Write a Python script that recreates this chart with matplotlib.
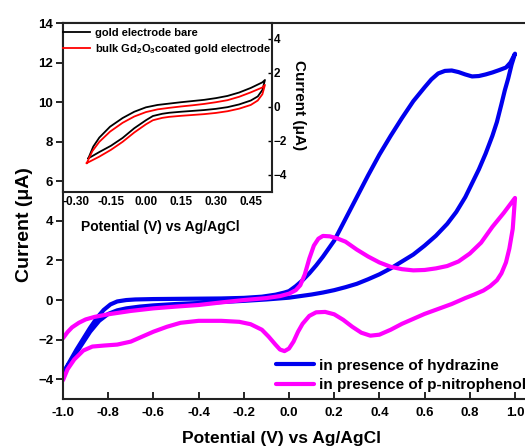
import matplotlib
matplotlib.use("Agg")
import matplotlib.pyplot as plt

plt.rcParams['font.family'] = ['Liberation Sans', 'DejaVu Sans']
plt.rcParams['font.weight'] = 'bold'
plt.rcParams['mathtext.fontset'] = 'custom'
plt.rcParams['mathtext.rm'] = 'Liberation Sans:bold'
plt.rcParams['mathtext.bf'] = 'Liberation Sans:bold'
plt.rcParams['mathtext.it'] = 'Liberation Sans:bold'

# ---- main panel data ----
hyd_fwd_x = [-1.0, -0.97, -0.94, -0.91, -0.88, -0.85, -0.82, -0.79, -0.76, -0.72, -0.68, -0.6, -0.5, -0.4,
             -0.3, -0.2, -0.12, -0.06, -0.02, 0.0, 0.03, 0.06, 0.09, 0.12, 0.15, 0.2, 0.25, 0.3, 0.35, 0.4,
             0.45, 0.5, 0.55, 0.6, 0.63, 0.66, 0.69, 0.72, 0.75, 0.78, 0.81, 0.84, 0.87, 0.9, 0.93, 0.96,
             0.98, 1.0]
hyd_fwd_y = [-3.7, -3.1, -2.5, -1.95, -1.4, -0.9, -0.5, -0.22, -0.07, 0.0, 0.03, 0.05, 0.06, 0.07,
             0.08, 0.11, 0.17, 0.27, 0.38, 0.45, 0.7, 1.0, 1.35, 1.75, 2.19, 3.0, 4.1, 5.2, 6.3, 7.35,
             8.3, 9.2, 10.05, 10.75, 11.15, 11.45, 11.58, 11.6, 11.52, 11.4, 11.3, 11.32, 11.4, 11.5, 11.62, 11.75,
             12.0, 12.45]
hyd_rev_x = [1.0, 0.985, 0.97, 0.955, 0.94, 0.92, 0.9, 0.87, 0.84, 0.81, 0.78, 0.74, 0.7, 0.65, 0.6,
             0.55, 0.5, 0.45, 0.4, 0.35, 0.3, 0.25, 0.2, 0.15, 0.1, 0.05, 0.0, -0.1, -0.2, -0.3, -0.4,
             -0.5, -0.6, -0.66, -0.72, -0.76, -0.8, -0.84, -0.88, -0.92, -0.96, -1.0]
hyd_rev_y = [12.45, 11.9, 11.2, 10.6, 9.9, 9.0, 8.3, 7.4, 6.6, 5.9, 5.2, 4.45, 3.85, 3.25, 2.75,
             2.3, 1.95, 1.6, 1.3, 1.05, 0.82, 0.65, 0.5, 0.38, 0.28, 0.2, 0.12, 0.03, -0.04, -0.1, -0.15,
             -0.2, -0.27, -0.33, -0.42, -0.52, -0.7, -1.05, -1.6, -2.3, -3.0, -3.7]

pnp_fwd_x = [-1.0, -0.98, -0.96, -0.93, -0.9, -0.86, -0.8, -0.7, -0.6, -0.5, -0.4, -0.3, -0.2, -0.1,
             -0.04, 0.0, 0.03, 0.05, 0.07, 0.09, 0.11, 0.13, 0.15, 0.18, 0.21, 0.25, 0.3, 0.35, 0.4,
             0.45, 0.5, 0.55, 0.6, 0.65, 0.7, 0.75, 0.8, 0.85, 0.9, 0.95, 1.0]
pnp_fwd_y = [-1.93, -1.62, -1.38, -1.15, -0.98, -0.85, -0.72, -0.55, -0.42, -0.33, -0.25, -0.12, 0.0, 0.1,
             0.2, 0.32, 0.5, 0.75, 1.3, 2.1, 2.75, 3.1, 3.24, 3.22, 3.13, 2.95, 2.55, 2.2, 1.9,
             1.68, 1.56, 1.5, 1.52, 1.6, 1.72, 1.95, 2.35, 2.9, 3.7, 4.4, 5.16]
pnp_rev_x = [1.0, 0.99, 0.975, 0.96, 0.94, 0.92, 0.89, 0.86, 0.82, 0.78, 0.72, 0.66, 0.6, 0.55, 0.5,
             0.45, 0.4, 0.36, 0.32, 0.28, 0.24, 0.2, 0.16, 0.12, 0.09, 0.06, 0.04, 0.02, 0.0, -0.02,
             -0.04, -0.06, -0.09, -0.12, -0.17, -0.22, -0.3, -0.4, -0.48, -0.54, -0.6, -0.65, -0.7,
             -0.76, -0.82, -0.87, -0.91, -0.95, -0.98, -1.0]
pnp_rev_y = [5.16, 3.6, 2.6, 1.9, 1.35, 1.0, 0.7, 0.48, 0.28, 0.1, -0.2, -0.45, -0.7, -0.95, -1.2,
             -1.5, -1.75, -1.8, -1.65, -1.35, -1.0, -0.72, -0.6, -0.62, -0.8, -1.2, -1.6, -2.1, -2.45, -2.58,
             -2.5, -2.25, -1.85, -1.5, -1.22, -1.1, -1.05, -1.05, -1.15, -1.35, -1.6, -1.85, -2.1,
             -2.25, -2.3, -2.35, -2.55, -3.0, -3.5, -4.05]

main_xticks = [-1.0, -0.8, -0.6, -0.4, -0.2, 0.0, 0.2, 0.4, 0.6, 0.8, 1.0]
main_yticks = [-4, -2, 0, 2, 4, 6, 8, 10, 12, 14]

# ---- inset data ----
bare_fwd_x = [-0.247, -0.2, -0.15, -0.1, -0.05, 0.0, 0.03, 0.07, 0.1, 0.15, 0.2, 0.25, 0.3, 0.35, 0.4,
              0.45, 0.48, 0.5, 0.511]
bare_fwd_y = [-3.02, -2.65, -2.28, -1.82, -1.25, -0.78, -0.53, -0.4, -0.34, -0.28, -0.23, -0.18, -0.11,
              -0.01, 0.15, 0.38, 0.62, 1.0, 1.59]
bare_rev_x = [0.511, 0.5, 0.45, 0.4, 0.35, 0.3, 0.25, 0.2, 0.15, 0.1, 0.05, 0.0, -0.05, -0.1, -0.154,
              -0.2, -0.226, -0.247]
bare_rev_y = [1.59, 1.45, 1.12, 0.85, 0.65, 0.52, 0.42, 0.35, 0.28, 0.2, 0.12, -0.02, -0.28, -0.65, -1.16,
              -1.8, -2.33, -3.02]

gd_fwd_x = [-0.254, -0.2, -0.15, -0.1, -0.05, 0.0, 0.03, 0.07, 0.1, 0.15, 0.2, 0.25, 0.3, 0.35, 0.4,
            0.45, 0.48, 0.5, 0.511]
gd_fwd_y = [-3.3, -2.92, -2.52, -2.05, -1.5, -1.02, -0.78, -0.64, -0.58, -0.52, -0.47, -0.42, -0.35,
            -0.25, -0.1, 0.12, 0.38, 0.75, 1.3]
gd_rev_x = [0.511, 0.5, 0.45, 0.4, 0.35, 0.3, 0.25, 0.2, 0.15, 0.1, 0.05, 0.0, -0.05, -0.1, -0.154,
            -0.2, -0.23, -0.254]
gd_rev_y = [1.3, 1.15, 0.86, 0.6, 0.4, 0.28, 0.18, 0.1, 0.03, -0.05, -0.14, -0.3, -0.56, -0.93, -1.45,
            -2.05, -2.6, -3.3]

inset_xticks = [-0.30, -0.15, 0.00, 0.15, 0.30, 0.45]
inset_yticks = [-4, -2, 0, 2, 4]

W, H = 525, 446
fig = plt.figure(figsize=(W / 100, H / 100), dpi=100)

ax = fig.add_axes([63 / W, 1 - 399 / H, (525 - 63) / W, (399 - 23) / H])
blue = '#0000ee'
mag = '#ff00ff'
lw = 3.0
ax.plot(hyd_fwd_x + hyd_rev_x, hyd_fwd_y + hyd_rev_y, color=blue, lw=lw,
        solid_joinstyle='round', solid_capstyle='round', label='in presence of hydrazine')
ax.plot(pnp_fwd_x + pnp_rev_x, pnp_fwd_y + pnp_rev_y, color=mag, lw=lw,
        solid_joinstyle='round', solid_capstyle='round', label='in presence of p-nitrophenol')
ax.set_xlim(-1.0, -1.0 + (525 - 63) / 226)
ax.set_ylim(-5, 14)
ax.set_xticks(main_xticks)
ax.set_xticklabels(['%.1f' % v for v in main_xticks])
ax.set_yticks(main_yticks)
ax.spines['right'].set_visible(False)
for s in ['left', 'bottom', 'top']:
    ax.spines[s].set_linewidth(1.5)
    ax.spines[s].set_color('#222222')
ax.tick_params(axis='x', direction='in', length=5, width=1.2, labelsize=9.5, pad=6)
ax.tick_params(axis='y', direction='out', length=5, width=1.2, labelsize=9.5, pad=2)
for t in ax.get_xticklabels() + ax.get_yticklabels():
    t.set_fontweight('bold')
ax.set_xlabel('Potential (V) vs Ag/AgCl', fontsize=12.5, fontweight='bold')
ax.xaxis.set_label_coords((282 - 63) / (525 - 63), -(431 - 399) / (399 - 23))
ax.set_ylabel('Current (μA)', fontsize=14, fontweight='bold')
ax.yaxis.set_label_coords(-(63 - 33) / (525 - 63), (399 - 225) / (399 - 23))
leg = ax.legend(loc='lower left', bbox_to_anchor=((276 - 63) / (525 - 63), (399 - 392) / (399 - 23)),
                frameon=False, fontsize=11, handlelength=2.5, handletextpad=0.3,
                labelspacing=0.35, borderpad=0, borderaxespad=0)
for t in leg.get_texts():
    t.set_fontweight('bold')

# ---- inset ----
axi = fig.add_axes([63 / W, 1 - 192 / H, (272 - 63) / W, (192 - 23) / H])
axi.plot(bare_fwd_x + bare_rev_x, bare_fwd_y + bare_rev_y, color='black', lw=1.3,
         solid_joinstyle='round', label='gold electrode bare')
axi.plot(gd_fwd_x + gd_rev_x, gd_fwd_y + gd_rev_y, color='#ff0000', lw=1.3,
         solid_joinstyle='round', label=r'bulk Gd$_{2}$O$_{3}$coated gold electrode')
axi.set_xlim(-0.30 - 13 / 233, -0.30 + (272 - 76) / 233)
axi.set_ylim(-5, 4.94)
axi.set_xticks(inset_xticks)
axi.set_xticklabels(['%.2f' % v for v in inset_xticks])
axi.set_yticks(inset_yticks)
axi.yaxis.tick_right()
axi.yaxis.set_label_position('right')
for s in axi.spines.values():
    s.set_linewidth(1.5)
    s.set_color('#222222')
axi.tick_params(axis='x', direction='in', length=0, labelsize=8.5, pad=3)
axi.tick_params(axis='y', direction='in', length=3, width=1.0, labelsize=8.5, pad=1)
for t in axi.get_xticklabels() + axi.get_yticklabels():
    t.set_fontweight('bold')
axi.set_xlabel('Potential (V) vs Ag/AgCl', fontsize=10, fontweight='bold')
axi.xaxis.set_label_coords((160 - 63) / (272 - 63), -(220 - 192) / (192 - 23))
axi.set_ylabel('Current (μA)', fontsize=11, fontweight='bold', rotation=270, va='bottom')
axi.yaxis.set_label_coords((292 - 63) / (272 - 63), (192 - 105) / (192 - 23))
legi = axi.legend(loc='upper left', bbox_to_anchor=(0.0, (192 - 28) / (192 - 23)),
                  frameon=False, fontsize=8, handlelength=2.4, handletextpad=0.45,
                  labelspacing=0.35, borderpad=0, borderaxespad=0)
for t in legi.get_texts():
    t.set_fontweight('bold')

fig.savefig('out.png', dpi=100)
